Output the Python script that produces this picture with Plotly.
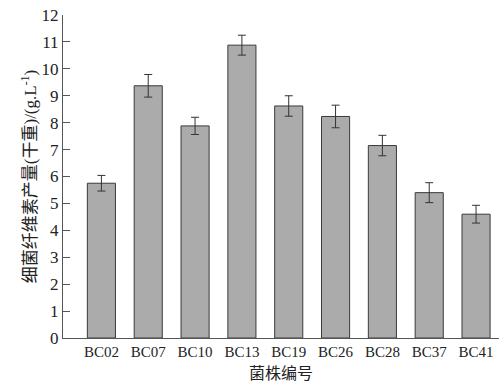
import plotly.graph_objects as go

strains = ["BC02", "BC07", "BC10", "BC13", "BC19", "BC26", "BC28", "BC37", "BC41"]
yield_values = [5.75, 9.37, 7.88, 10.88, 8.62, 8.23, 7.15, 5.40, 4.60]
errors = [0.29, 0.42, 0.32, 0.37, 0.38, 0.42, 0.38, 0.37, 0.33]
y_ticks = list(range(0, 13))

FONT = "Liberation Serif, Times New Roman, Noto Sans CJK SC, serif"

fig = go.Figure(
    go.Bar(
        x=strains,
        y=yield_values,
        error_y=dict(type="data", array=errors, visible=True,
                     color="#333333", thickness=1, width=4),
        marker=dict(color="#ababab", line=dict(color="#3a3a3a", width=1)),
    )
)

fig.update_layout(
    width=501, height=385,
    margin=dict(l=63, r=2, t=15, b=47),
    paper_bgcolor="white", plot_bgcolor="white",
    bargap=0.4,
    showlegend=False,
    font=dict(family=FONT, size=15, color="#222222"),
    xaxis=dict(
        type="category",
        range=[-0.82, 8.49],
        showline=True, linecolor="#555555", linewidth=1,
        ticks="", showgrid=False,
        tickfont=dict(size=15),
        title=dict(text="菌株编号", font=dict(size=16, family="Noto Sans CJK SC"), standoff=2),
    ),
    yaxis=dict(
        range=[0, 12],
        tickvals=y_ticks,
        showline=True, linecolor="#555555", linewidth=1,
        ticks="inside", ticklen=7, tickcolor="#555555",
        showgrid=False, zeroline=False,
        tickfont=dict(size=17),
        title=dict(text="细菌纤维素产量(干重)/(g.L<sup>-1</sup>)",
                   font=dict(size=17, family=FONT), standoff=0),
    ),
)

fig.write_html("out.html", config={"displayModeBar": False},
               post_script="document.body.style.margin='0';document.body.style.overflow='hidden';")
